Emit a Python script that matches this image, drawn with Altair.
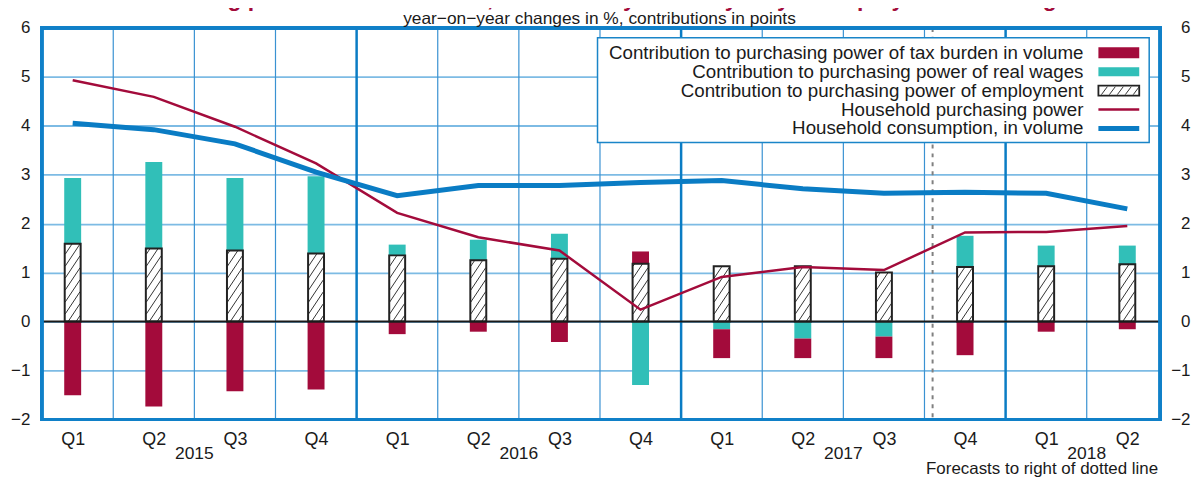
import altair as alt
import pandas as pd

# ---------------- data ----------------
quarters = ["Q1", "Q2", "Q3", "Q4", "Q1", "Q2", "Q3", "Q4", "Q1", "Q2", "Q3", "Q4", "Q1", "Q2"]
years = ["2015"] * 4 + ["2016"] * 4 + ["2017"] * 4 + ["2018"] * 2
employment = [1.59, 1.49, 1.45, 1.39, 1.35, 1.25, 1.28, 1.18, 1.13, 1.13, 1.00, 1.11, 1.13, 1.17]
real_wages = [1.34, 1.77, 1.48, 1.58, 0.22, 0.42, 0.51, -1.30, -0.16, -0.35, -0.31, 0.64, 0.42, 0.38]
tax_burden = [-1.51, -1.74, -1.43, -1.39, -0.26, -0.21, -0.42, 0.25, -0.59, -0.40, -0.44, -0.69, -0.21, -0.16]
purchasing_power = [4.93, 4.59, 3.98, 3.23, 2.22, 1.72, 1.45, 0.24, 0.91, 1.11, 1.05, 1.82, 1.83, 1.95]
consumption = [4.05, 3.92, 3.63, 3.05, 2.57, 2.78, 2.78, 2.84, 2.88, 2.71, 2.62, 2.64, 2.62, 2.30]
forecast_start = 10.6  # dotted line between 2017 Q3 and 2017 Q4
y_ticks = [-2, -1, 0, 1, 2, 3, 4, 5, 6]

title_text = "Purchasing power is built on trust, bolstered by the buoyancy of employment and wages"
subtitle_text = "year\u2212on\u2212year changes in %, contributions in points"
forecast_text = "Forecasts to right of dotted line"
name_tax = "Contribution to purchasing power of tax burden in volume"
name_wages = "Contribution to purchasing power of real wages"
name_emp = "Contribution to purchasing power of employment"
name_pp = "Household purchasing power"
name_cons = "Household consumption, in volume"

# ---------------- style ----------------
RED = "#a30b3b"
TEAL = "#31bfb8"
BLUE = "#0a7cc4"
FONT = "Liberation Sans"
W, H = 1123, 393
XDOM = [-0.38, 13.405]
YDOM = [-2, 6]
xs = alt.Scale(domain=XDOM, nice=False, zero=False, padding=0)
ys = alt.Scale(domain=YDOM, nice=False, zero=False, padding=0)
PX_X = W / (XDOM[1] - XDOM[0])
PX_Y = H / (YDOM[1] - YDOM[0])
BAR_PX = 17

n = len(quarters)
idx = list(range(n))

# ---------------- tables ----------------
comp_names = [name_emp, name_wages, name_tax]
bar_rows = []
for i in idx:
    for k, vals in enumerate([employment, real_wages, tax_burden]):
        bar_rows.append({"i": i, "comp": comp_names[k], "value": vals[i], "ord": k})
bar_df = pd.DataFrame(bar_rows)
emp_df = pd.DataFrame({"i": idx, "employment": employment})

# hatch segments inside employment bars
slope, gap = 1.5, 12.0
hatch_rows = []
for i, e in enumerate(employment):
    h = e * PX_Y
    w = BAR_PX - 2
    c = -slope * w + gap / 2
    while c < h:
        x0 = max(0.0, (0 - c) / slope)
        x1 = min(w, (h - c) / slope)
        if x1 > x0:
            hatch_rows.append({
                "x": i - w / 2 / PX_X + x0 / PX_X,
                "x2": i - w / 2 / PX_X + x1 / PX_X,
                "y": (c + slope * x0) / PX_Y,
                "y2": (c + slope * x1) / PX_Y,
            })
        c += gap
hatch_df = pd.DataFrame(hatch_rows)

pp_df = pd.DataFrame({"i": idx, "v": purchasing_power})
cons_df = pd.DataFrame({"i": idx, "v": consumption})

quarter_bounds, year_bounds = [], []
for i in range(n - 1):
    (year_bounds if years[i] != years[i + 1] else quarter_bounds).append(i + 0.5)
qb_df = pd.DataFrame({"b": quarter_bounds})
yb_df = pd.DataFrame({"b": year_bounds})

year_names = []
for y in years:
    if y not in year_names:
        year_names.append(y)
year_df = pd.DataFrame({
    "year": year_names,
    "center": [sum(i for i in idx if years[i] == y) / years.count(y) for y in year_names],
})

axis_df = pd.DataFrame({"i": idx, "v": [0] * n})

# ---------------- layers ----------------
label_expr = "[" + ",".join("'%s'" % q for q in quarters) + "][datum.value]"

axis_left = alt.Chart(axis_df).mark_point(opacity=0).encode(
    x=alt.X("i:Q", scale=xs, axis=alt.Axis(
        orient="bottom", values=idx, labelExpr=label_expr, grid=False, ticks=False, tickSize=0,
        domain=False, labelFontSize=18, labelColor="#1a1a1a", labelPadding=20,
        labelBaseline="middle", labelFlush=False, title=None, labelFont=FONT)),
    y=alt.Y("v:Q", scale=ys, axis=alt.Axis(
        orient="left", values=y_ticks, format="d", grid=True, gridColor="#7dbbe4", gridWidth=1.8,
        ticks=False, tickSize=0, domain=False, labelFontSize=17, labelColor="#1a1a1a",
        labelPadding=12, labelFlush=False, title=None, labelFont=FONT)),
)
axis_right = alt.Chart(axis_df).mark_point(opacity=0).encode(
    x=alt.X("i:Q", scale=xs, axis=None),
    y=alt.Y("v:Q", scale=ys, axis=alt.Axis(
        orient="right", values=y_ticks, format="d", grid=False, ticks=False, tickSize=0,
        domain=False, labelFontSize=17, labelColor="#1a1a1a", labelPadding=30,
        labelAlign="right", labelFlush=False, title=None, labelFont=FONT)),
)

q_rules = alt.Chart(qb_df).mark_rule(color="#3a92d2", strokeWidth=1.2).encode(
    x=alt.X("b:Q", scale=xs, axis=None))
y_rules = alt.Chart(yb_df).mark_rule(color=BLUE, strokeWidth=2.5).encode(
    x=alt.X("b:Q", scale=xs, axis=None))
dotted = alt.Chart(pd.DataFrame({"b": [forecast_start]})).mark_rule(
    color="#808080", strokeWidth=2, strokeDash=[4, 5]).encode(
    x=alt.X("b:Q", scale=xs, axis=None))

bars = alt.Chart(bar_df).mark_bar(size=BAR_PX).encode(
    x=alt.X("i:Q", scale=xs, axis=None),
    y=alt.Y("value:Q", scale=ys, axis=None, stack="zero"),
    color=alt.Color("comp:N", scale=alt.Scale(domain=comp_names, range=["#ffffff", TEAL, RED]), legend=None),
    order=alt.Order("ord:Q"),
)
hatch = alt.Chart(hatch_df).mark_rule(color="#333333", strokeWidth=1).encode(
    x=alt.X("x:Q", scale=xs, axis=None), x2="x2:Q",
    y=alt.Y("y:Q", scale=ys, axis=None), y2="y2:Q",
)
outline = alt.Chart(emp_df).mark_bar(size=BAR_PX - 1, fillOpacity=0, stroke="#222222", strokeWidth=2).encode(
    x=alt.X("i:Q", scale=xs, axis=None),
    y=alt.Y("employment:Q", scale=ys, axis=None),
)
zero = alt.Chart(pd.DataFrame({"z": [0]})).mark_rule(color="#1a1a1a", strokeWidth=2).encode(
    y=alt.Y("z:Q", scale=ys, axis=None))

pp_line = alt.Chart(pp_df).mark_line(color=RED, strokeWidth=2.5).encode(
    x=alt.X("i:Q", scale=xs, axis=None), y=alt.Y("v:Q", scale=ys, axis=None))
cons_line = alt.Chart(cons_df).mark_line(color=BLUE, strokeWidth=5).encode(
    x=alt.X("i:Q", scale=xs, axis=None), y=alt.Y("v:Q", scale=ys, axis=None))

frame = alt.Chart(axis_df).mark_rect(fillOpacity=0, stroke="#1080c8", strokeWidth=2.6).encode(
    x=alt.value(0), x2=alt.value(W), y=alt.value(0), y2=alt.value(H))

# ---------------- legend ----------------
LX0, LX1, LY0, LY1 = 558, 1112, 10, 115
SX0, SX1, TX = 1061, 1102, 1046
rows_y = [25, 44, 63, 82, 101]
one = pd.DataFrame({"a": [0]})
legend_layers = [
    alt.Chart(one).mark_rect(fill="white", stroke="#1a85c8", strokeWidth=1.5).encode(
        x=alt.value(LX0), x2=alt.value(LX1), y=alt.value(LY0), y2=alt.value(LY1)),
]
for name, ry in zip([name_tax, name_wages, name_emp, name_pp, name_cons], rows_y):
    legend_layers.append(alt.Chart(one).mark_text(
        align="right", baseline="middle", fontSize=18.8, font=FONT, color="#1a1a1a", text=name).encode(
        x=alt.value(TX), y=alt.value(ry)))
legend_layers += [
    alt.Chart(one).mark_rect(fill=RED).encode(
        x=alt.value(SX0), x2=alt.value(SX1), y=alt.value(rows_y[0] - 5.5), y2=alt.value(rows_y[0] + 5.5)),
    alt.Chart(one).mark_rect(fill=TEAL).encode(
        x=alt.value(SX0), x2=alt.value(SX1), y=alt.value(rows_y[1] - 4.5), y2=alt.value(rows_y[1] + 4.5)),
    alt.Chart(one).mark_rect(fill="white", stroke="#222222", strokeWidth=1.8).encode(
        x=alt.value(SX0), x2=alt.value(SX1), y=alt.value(rows_y[2] - 5), y2=alt.value(rows_y[2] + 5)),
]
for k in range(5):
    x0 = SX0 + 3 + 8 * k
    legend_layers.append(alt.Chart(one).mark_rule(color="#333333", strokeWidth=1).encode(
        x=alt.value(x0), x2=alt.value(x0 + 6), y=alt.value(rows_y[2] + 4), y2=alt.value(rows_y[2] - 4)))
legend_layers += [
    alt.Chart(one).mark_rule(color=RED, strokeWidth=2.5).encode(
        x=alt.value(SX0), x2=alt.value(SX1), y=alt.value(rows_y[3])),
    alt.Chart(one).mark_rule(color=BLUE, strokeWidth=5).encode(
        x=alt.value(SX0), x2=alt.value(SX1), y=alt.value(rows_y[4])),
]

# ---------------- texts ----------------
title = alt.Chart(one).mark_text(
    text=title_text, fontSize=23, fontWeight="bold", font=FONT, color=RED,
    align="center", baseline="alphabetic").encode(x=alt.value(560), y=alt.value(-22))
subtitle = alt.Chart(one).mark_text(
    text=subtitle_text, fontSize=17.4, font=FONT, color="#1a1a1a",
    align="center", baseline="middle").encode(x=alt.value(560), y=alt.value(-9))
year_text = alt.Chart(year_df).mark_text(
    fontSize=17.5, font=FONT, color="#1a1a1a", baseline="middle").encode(
    x=alt.X("center:Q", scale=xs, axis=None), y=alt.value(428), text="year:N")
forecast = alt.Chart(one).mark_text(
    text=forecast_text, fontSize=17, font=FONT, color="#1a1a1a",
    align="right", baseline="alphabetic").encode(x=alt.value(W - 2), y=alt.value(447.5))

chart = alt.layer(
    axis_left, axis_right, q_rules, y_rules, dotted, bars, hatch, outline, zero,
    pp_line, cons_line, frame, *legend_layers, title, subtitle, year_text, forecast,
).resolve_axis(x="independent", y="independent").properties(
    width=W, height=H,
    autosize=alt.AutoSizeParams(type="none"),
    padding={"left": 34, "top": 19, "right": 35, "bottom": 58},
).configure(font=FONT).configure_view(strokeWidth=0)

chart.save("out.html", embed_options={"renderer": "svg", "actions": False})
